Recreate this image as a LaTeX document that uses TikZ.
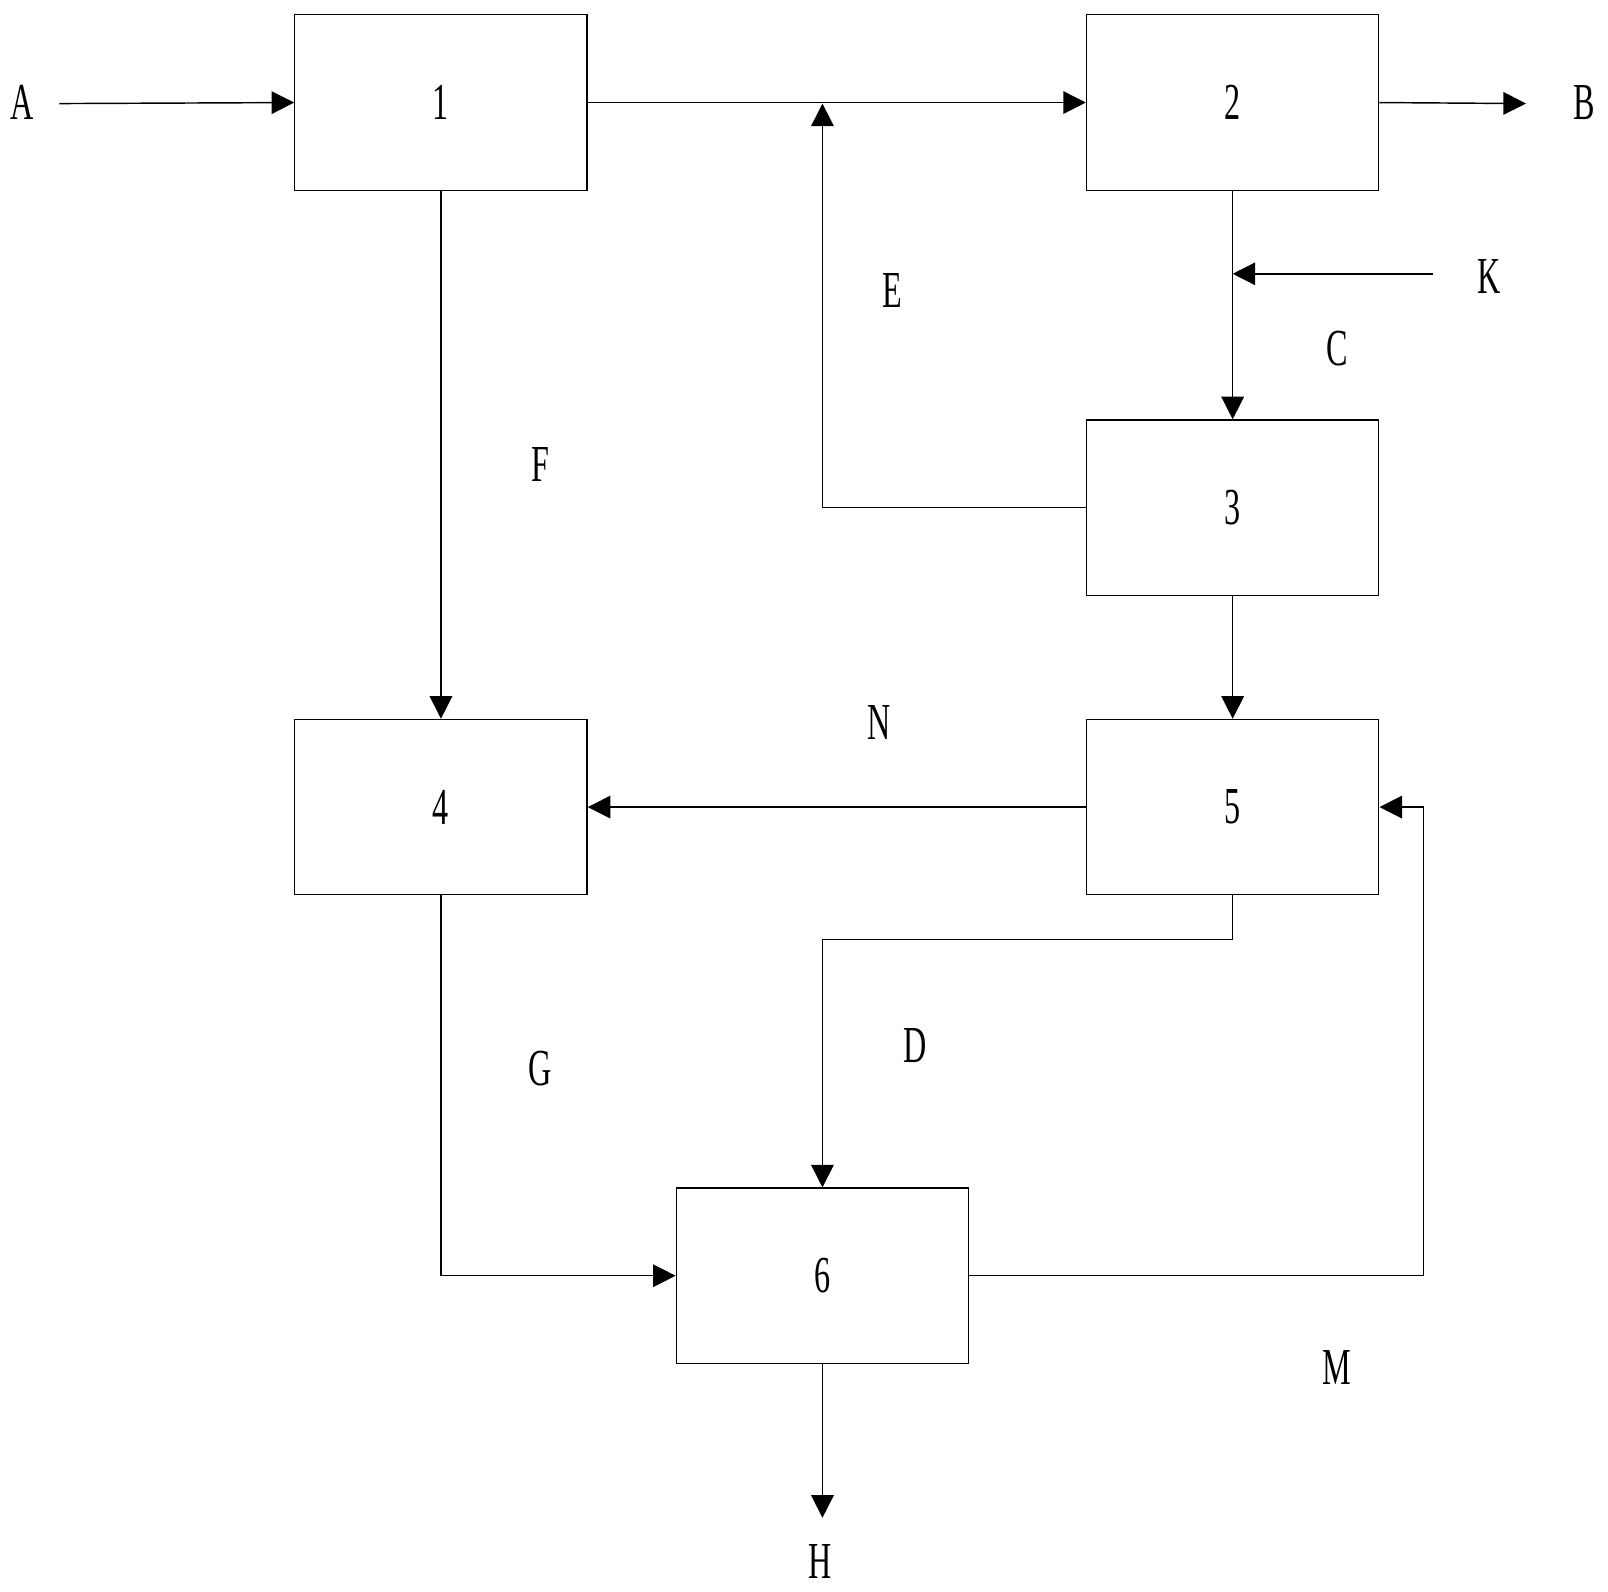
\documentclass[tikz,border=0pt]{standalone}
\usepackage{fontspec}
\setmainfont[FakeStretch=0.62]{Liberation Serif}
\usetikzlibrary{arrows.meta}

\begin{document}
\begin{tikzpicture}[x=0.025cm, y=-0.025cm, every node/.style={font=\fontsize{36}{40}\selectfont},
    box/.style={draw, line width=0.9pt, minimum width=7.125cm, minimum height=4.275cm, inner sep=0pt},
    flow/.style={-{Triangle[length=0.55cm, width=0.55cm]}, line width=1pt}]
			\useasboundingbox (0,0) rectangle (1568,1552);

			% Nodes
			\node[box] (b1) at (430, 100) {1};
			\node[box] (b2) at (1202, 100) {2};
			\node[box] (b3) at (1202, 495) {3};
			\node[box] (b4) at (430, 787) {4};
			\node[box] (b5) at (1202, 787) {5};
			\node[box] (b6) at (802, 1244) {6};

			% Labels
			\node (la) at (22, 100) {A};
			\node (lb) at (1545, 100) {B};
			\node (lc) at (1304, 340) {C};
			\node (ld) at (892, 1020) {D};
			\node (le) at (870, 283) {E};
			\node (lf) at (527, 453) {F};
			\node (lg) at (527, 1042) {G};
			\node (lh) at (800, 1523) {H};
			\node (lk) at (1452, 270) {K};
			\node (lm) at (1304, 1333) {M};
			\node (ln) at (857, 705) {N};

			% Free ends
			\coordinate (ain) at (58, 101);
			\coordinate (bout) at (1488, 101);
			\coordinate (kin) at (1397, 267);
			\coordinate (kjoin) at (1202, 267);
			\coordinate (eup) at (802, 101);
			\coordinate (mup) at (1388, 787);
			\coordinate (hout) at (802, 1480);

			% Edges
			\draw[flow] (ain) -- (b1.west);
			\draw[flow] (b1.east) -- (b2.west);
			\draw[flow] (b2.east) -- (bout);
			\draw[flow] (b2.south) -- (b3.north);
			\draw[flow] (kin) -- (kjoin);
			\draw[flow] (b3.west) -| (eup);
			\draw[flow] (b1.south) -- (b4.north);
			\draw[flow] (b3.south) -- (b5.north);
			\draw[flow] (b5.west) -- (b4.east);
			\draw[flow] (b5.south) -- ++(0, 43) -| (b6.north);
			\draw[flow] (b4.south) |- (b6.west);
			\draw[flow] (b6.east) -| (mup) -- (b5.east);
			\draw[flow] (b6.south) -- (hout);
		\end{tikzpicture}
\end{document}
